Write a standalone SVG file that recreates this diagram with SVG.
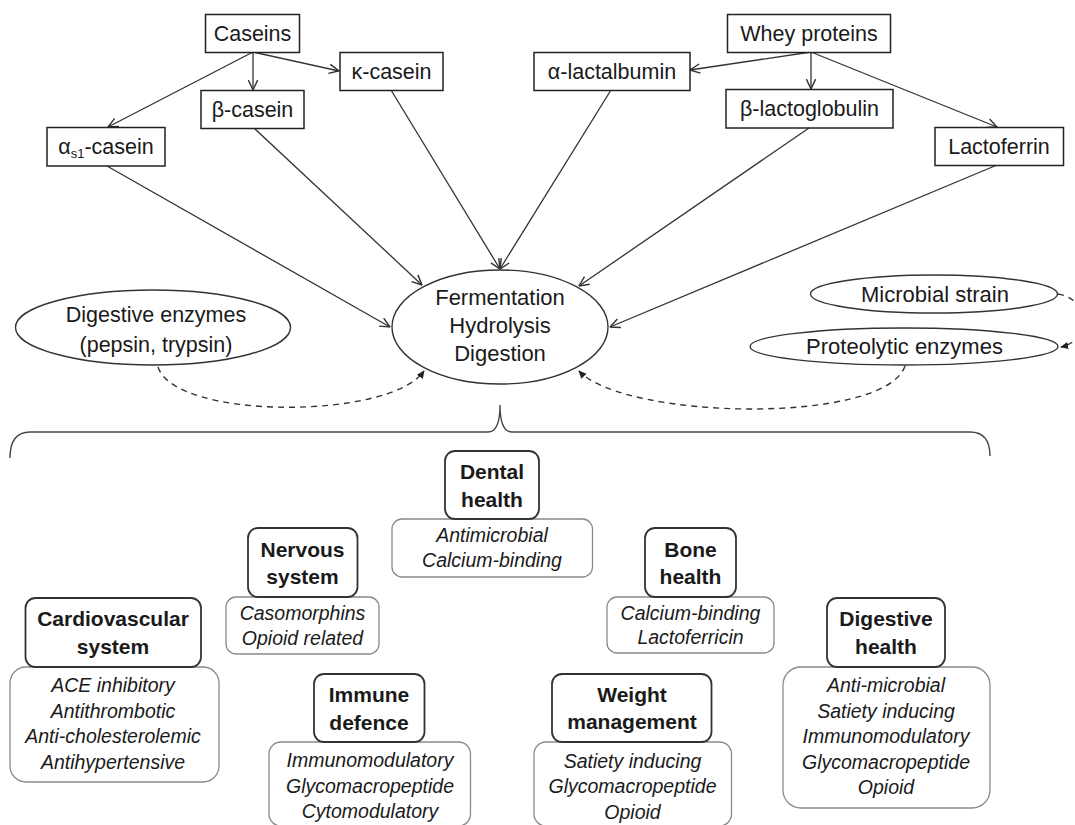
<svg xmlns="http://www.w3.org/2000/svg" width="1075" height="825" viewBox="0 0 1075 825">
<style>
  text { font-family: "Liberation Sans", Arial, sans-serif; fill: #1a1a1a; text-anchor: middle; }
  .lbl { font-size: 21.5px; }
  .el { font-size: 22px; }
  .hd { font-size: 21px; font-weight: bold; }
  .it { font-size: 19.5px; font-style: italic; }
  .box { fill: #fff; stroke: #222; stroke-width: 1.5; }
  .ell { fill: #fff; stroke: #333; stroke-width: 1.4; }
  .hdr { fill: #fff; stroke: #333; stroke-width: 1.8; }
  .sub { fill: #fff; stroke: #8a8a8a; stroke-width: 1.3; }
  .conn { fill: none; stroke: #333; stroke-width: 1.3; marker-end: url(#open); }
  .dash { fill: none; stroke: #333; stroke-width: 1.4; stroke-dasharray: 6 5; marker-end: url(#solid); }
  .brace { fill: none; stroke: #444; stroke-width: 1.4; }
</style>
<defs>
  <marker id="open" viewBox="0 0 10 10" refX="9.5" refY="5" markerWidth="11" markerHeight="11" markerUnits="userSpaceOnUse" orient="auto">
    <path d="M0.5,0.8 L9.5,5 L0.5,9.2" fill="none" stroke="#333" stroke-width="1.3"/>
  </marker>
  <marker id="solid" viewBox="0 0 10 10" refX="9" refY="5" markerWidth="8" markerHeight="8" markerUnits="userSpaceOnUse" orient="auto">
    <path d="M0,0.5 L10,5 L0,9.5 Z" fill="#222"/>
  </marker>
</defs>

<g id="connectors">
  <line class="conn" x1="253" y1="52" x2="339" y2="71"/>
  <line class="conn" x1="253" y1="52" x2="253" y2="90"/>
  <line class="conn" x1="253" y1="52" x2="108" y2="127"/>
  <line class="conn" x1="811" y1="52" x2="690" y2="70"/>
  <line class="conn" x1="811" y1="52" x2="811" y2="89"/>
  <line class="conn" x1="811" y1="52" x2="997" y2="127"/>
  <line class="conn" x1="107" y1="166" x2="390" y2="327"/>
  <line class="conn" x1="254" y1="128" x2="422" y2="285"/>
  <line class="conn" x1="391" y1="90" x2="500" y2="269"/>
  <line class="conn" x1="611" y1="90" x2="500" y2="269"/>
  <line class="conn" x1="809" y1="128" x2="579" y2="286"/>
  <line class="conn" x1="997" y1="165" x2="610" y2="327"/>
  <path class="dash" d="M158,367 C175,420 390,420 424,371"/>
  <path class="dash" d="M905,366 C885,425 625,420 579,371"/>
  <path class="dash" d="M1058,294 C1092,300 1092,340 1061,347"/>
  <path class="brace" d="M10,458 Q10,432 30,432 L488,432 Q500,432 500,405 Q500,432 512,432 L970,432 Q990,432 990,456"/>
</g>

<g id="caseins">
  <rect class="box" x="205.5" y="14.5" width="94" height="38"/>
  <text class="lbl" x="252.5" y="41">Caseins</text>
</g>
<g id="kappa-casein">
  <rect class="box" x="340" y="52.5" width="103" height="38"/>
  <text class="lbl" x="391.5" y="79">κ-casein</text>
</g>
<g id="beta-casein">
  <rect class="box" x="201" y="90.5" width="103" height="38"/>
  <text class="lbl" x="252.5" y="117">β-casein</text>
</g>
<g id="alpha-s1-casein">
  <rect class="box" x="47" y="127.5" width="118" height="38.5"/>
  <text class="lbl" x="106" y="154">α<tspan font-size="13" dy="4">s1</tspan><tspan dy="-4">-casein</tspan></text>
</g>
<g id="whey-proteins">
  <rect class="box" x="727.5" y="14.5" width="163" height="38"/>
  <text class="lbl" x="809" y="41">Whey proteins</text>
</g>
<g id="alpha-lactalbumin">
  <rect class="box" x="534" y="52.5" width="156" height="38"/>
  <text class="lbl" x="612" y="79">α-lactalbumin</text>
</g>
<g id="beta-lactoglobulin">
  <rect class="box" x="726" y="89.5" width="167" height="38.5"/>
  <text class="lbl" x="809.5" y="116">β-lactoglobulin</text>
</g>
<g id="lactoferrin">
  <rect class="box" x="935" y="127.5" width="128.5" height="38"/>
  <text class="lbl" x="999" y="154">Lactoferrin</text>
</g>

<g id="process">
  <ellipse class="ell" cx="500" cy="327" rx="108" ry="57"/>
  <text class="el" x="500" y="305">Fermentation</text>
  <text class="el" x="500" y="333">Hydrolysis</text>
  <text class="el" x="500" y="361">Digestion</text>
</g>
<g id="digestive-enzymes">
  <ellipse class="ell" cx="153" cy="327.5" rx="137.5" ry="37.5"/>
  <text class="lbl" x="156" y="322">Digestive enzymes</text>
  <text class="lbl" x="156" y="352">(pepsin, trypsin)</text>
</g>
<g id="microbial-strain">
  <ellipse class="ell" cx="934" cy="294" rx="123.5" ry="19"/>
  <text class="el" x="935" y="301.5">Microbial strain</text>
</g>
<g id="proteolytic-enzymes">
  <ellipse class="ell" cx="904" cy="346.5" rx="154" ry="18.5"/>
  <text class="el" x="904.5" y="354">Proteolytic enzymes</text>
</g>

<g id="dental-health">
  <rect class="sub" x="392" y="519" width="200.5" height="58" rx="10"/>
  <rect class="hdr" x="445" y="451" width="94" height="68" rx="10"/>
  <text class="hd" x="492" y="479">Dental</text>
  <text class="hd" x="492" y="507">health</text>
  <text class="it" x="492" y="542">Antimicrobial</text>
  <text class="it" x="492" y="567">Calcium-binding</text>
</g>
<g id="nervous-system">
  <rect class="sub" x="226" y="597" width="153" height="57" rx="10"/>
  <rect class="hdr" x="248" y="528" width="109.5" height="69" rx="10"/>
  <text class="hd" x="302.5" y="557">Nervous</text>
  <text class="hd" x="302.5" y="584">system</text>
  <text class="it" x="302.5" y="620">Casomorphins</text>
  <text class="it" x="302.5" y="645">Opioid related</text>
</g>
<g id="cardiovascular-system">
  <rect class="sub" x="10" y="667" width="209" height="115" rx="16"/>
  <rect class="hdr" x="25.5" y="598" width="175.5" height="69" rx="10"/>
  <text class="hd" x="113" y="626">Cardiovascular</text>
  <text class="hd" x="113" y="654">system</text>
  <text class="it" x="113" y="692">ACE inhibitory</text>
  <text class="it" x="113" y="718">Antithrombotic</text>
  <text class="it" x="113" y="743">Anti-cholesterolemic</text>
  <text class="it" x="113" y="769">Antihypertensive</text>
</g>
<g id="immune-defence">
  <rect class="sub" x="269" y="742" width="201.5" height="84" rx="12"/>
  <rect class="hdr" x="314" y="674" width="110.5" height="68" rx="10"/>
  <text class="hd" x="369" y="702">Immune</text>
  <text class="hd" x="369" y="730">defence</text>
  <text class="it" x="370" y="767">Immunomodulatory</text>
  <text class="it" x="370" y="793">Glycomacropeptide</text>
  <text class="it" x="370" y="818">Cytomodulatory</text>
</g>
<g id="bone-health">
  <rect class="sub" x="607" y="597" width="167" height="56" rx="10"/>
  <rect class="hdr" x="645" y="528" width="91" height="69" rx="10"/>
  <text class="hd" x="690.5" y="557">Bone</text>
  <text class="hd" x="690.5" y="584">health</text>
  <text class="it" x="690.5" y="620">Calcium-binding</text>
  <text class="it" x="690.5" y="644">Lactoferricin</text>
</g>
<g id="weight-management">
  <rect class="sub" x="534" y="742" width="197.5" height="84" rx="12"/>
  <rect class="hdr" x="552" y="674" width="159.5" height="68" rx="10"/>
  <text class="hd" x="632" y="702">Weight</text>
  <text class="hd" x="632" y="729">management</text>
  <text class="it" x="632.5" y="768">Satiety inducing</text>
  <text class="it" x="632.5" y="793">Glycomacropeptide</text>
  <text class="it" x="632.5" y="819">Opioid</text>
</g>
<g id="digestive-health">
  <rect class="sub" x="783" y="667" width="207" height="141" rx="18"/>
  <rect class="hdr" x="827" y="598" width="118" height="69" rx="10"/>
  <text class="hd" x="886" y="626">Digestive</text>
  <text class="hd" x="886" y="654">health</text>
  <text class="it" x="886" y="692">Anti-microbial</text>
  <text class="it" x="886" y="718">Satiety inducing</text>
  <text class="it" x="886" y="743">Immunomodulatory</text>
  <text class="it" x="886" y="769">Glycomacropeptide</text>
  <text class="it" x="886" y="794">Opioid</text>
</g>
</svg>
